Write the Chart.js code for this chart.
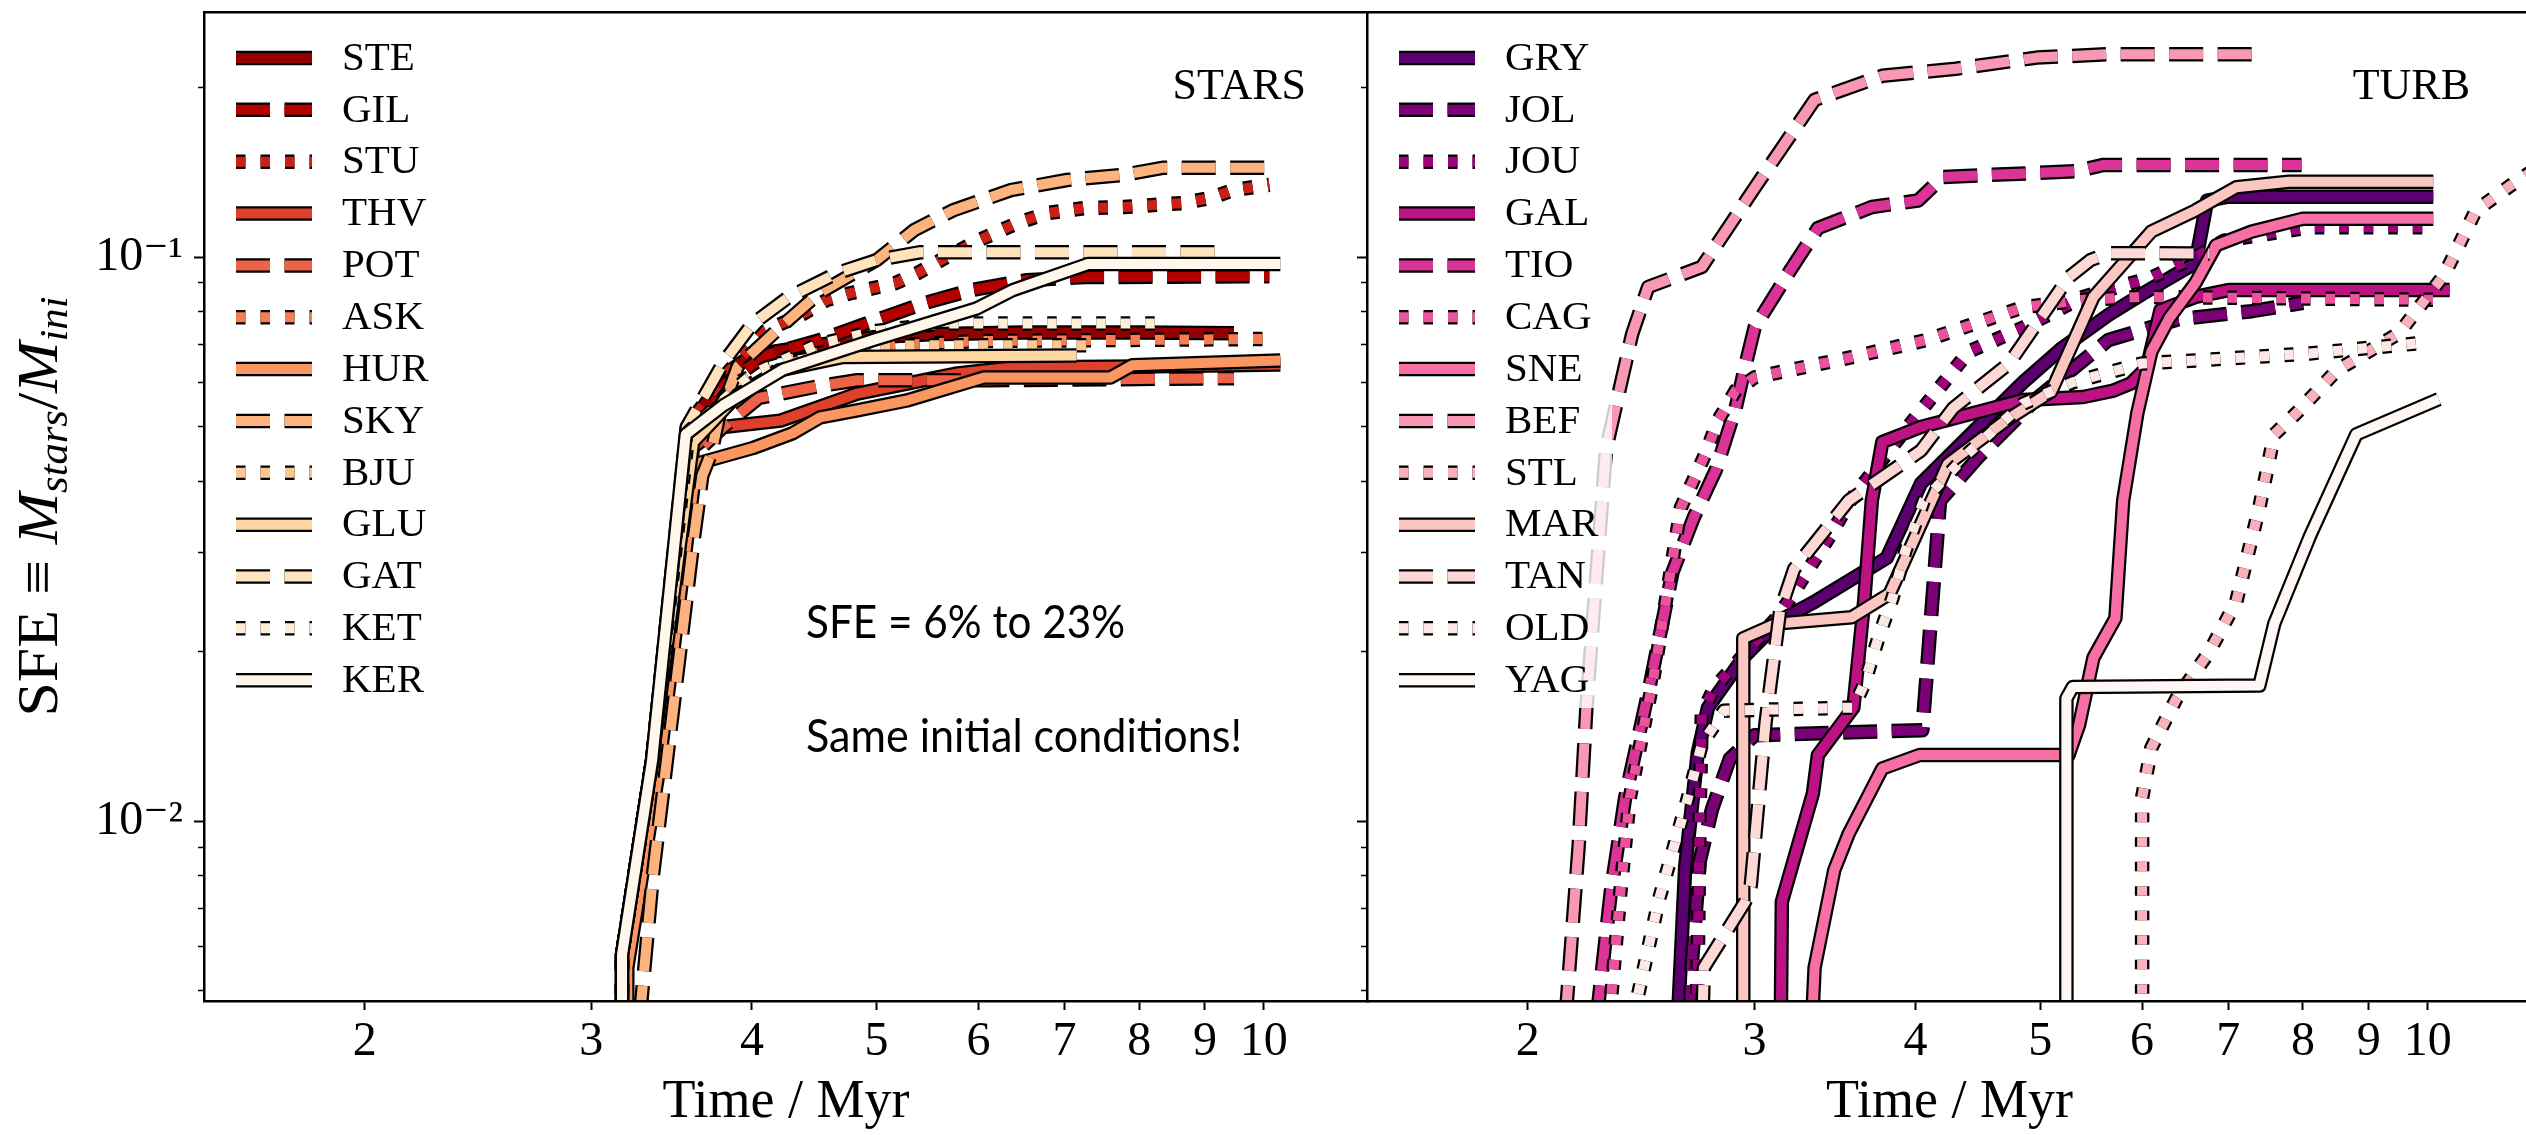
<!DOCTYPE html>
<html>
<head>
<meta charset="utf-8">
<title>SFE vs time: STARS / TURB</title>
<script src="https://cdn.jsdelivr.net/npm/chart.js@4.4.1/dist/chart.umd.min.js"></script>
<style>
  html, body { margin: 0; padding: 0; background: #fff; }
  body { width: 2526px; height: 1135px; overflow: hidden; position: relative; }
  canvas { position: absolute; top: 0; }
  #stars { left: 0; }
  #turb { left: 1340px; }
</style>
</head>
<body>
<canvas id="stars" width="1370" height="1135"></canvas>
<canvas id="turb" width="1200" height="1135"></canvas>
<script>
(function () {
  'use strict';

  // axes
  const xRange = [1.5, 12.05];
  const yRange = [0.0048, 0.272];
  const xTicks = [2, 3, 4, 5, 6, 7, 8, 9, 10];
  const yMajorTicks = [0.01, 0.1];
  const yMajorLabels = ['10\u207B\u00B2', '10\u207B\u00B9'];
  const yMinorTicks = [0.005, 0.006, 0.007, 0.008, 0.009, 0.02, 0.03, 0.04, 0.05, 0.06, 0.07, 0.08, 0.09, 0.2];

  // STARS runs: [time / Myr, SFE]
  const STE = [[3.17, 0.003], [3.17, 0.0058], [3.345, 0.0128], [3.56, 0.049], [3.7, 0.056], [3.85, 0.063], [4.0, 0.067], [4.34, 0.069], [4.97, 0.0721], [5.5, 0.073], [6.5, 0.0735], [8.0, 0.0735], [9.48, 0.0733]];
  const GIL = [[3.17, 0.003], [3.17, 0.0058], [3.345, 0.0128], [3.56, 0.049], [3.75, 0.058], [4.1, 0.067], [4.52, 0.0713], [4.97, 0.077], [5.45, 0.0829], [5.92, 0.0874], [6.54, 0.091], [7.26, 0.0922], [10.1, 0.0925]];
  const STU = [[3.17, 0.003], [3.17, 0.0058], [3.345, 0.0128], [3.56, 0.05], [3.8, 0.0612], [4.1, 0.074], [4.39, 0.0795], [4.57, 0.0839], [4.77, 0.0863], [5.17, 0.0899], [5.38, 0.0937], [5.61, 0.0988], [6.01, 0.1072], [6.43, 0.1149], [6.79, 0.1197], [7.26, 0.1222], [7.78, 0.1227], [8.66, 0.1247], [9.09, 0.1273], [9.47, 0.1315], [10.1, 0.1343]];
  const THV = [[3.18, 0.003], [3.18, 0.0057], [3.36, 0.0125], [3.6, 0.046], [3.77, 0.0499], [4.21, 0.0513], [4.83, 0.0573], [5.78, 0.0622], [6.35, 0.0637], [8.0, 0.064], [10.3, 0.0645]];
  const POT = [[3.18, 0.003], [3.18, 0.0057], [3.36, 0.0125], [3.62, 0.045], [3.8, 0.05], [4.05, 0.0563], [4.5, 0.059], [4.83, 0.0605], [6.1, 0.0605], [9.48, 0.061]];
  const ASK = [[3.17, 0.003], [3.17, 0.0058], [3.345, 0.0128], [3.58, 0.048], [3.9, 0.058], [4.3, 0.065], [5.0, 0.0695], [6.0, 0.071], [10.0, 0.0716]];
  const HUR = [[3.2, 0.003], [3.2, 0.0055], [3.38, 0.012], [3.62, 0.043], [4.01, 0.0459], [4.3, 0.0487], [4.52, 0.052], [4.83, 0.0535], [5.28, 0.0557], [6.06, 0.0612], [7.6, 0.0612], [7.9, 0.0643], [10.3, 0.0656]];
  const SKY = [[3.22, 0.003], [3.35, 0.008], [3.47, 0.0155], [3.6, 0.031], [3.66, 0.041], [3.72, 0.045], [3.77, 0.052], [3.9, 0.064], [4.21, 0.0752], [4.51, 0.0863], [5.0, 0.0988], [5.35, 0.1117], [5.73, 0.121], [6.36, 0.1315], [7.03, 0.137], [7.79, 0.14], [8.34, 0.144], [10.1, 0.144]];
  const BJU = [[3.17, 0.003], [3.17, 0.0058], [3.345, 0.0128], [3.57, 0.048], [3.9, 0.06], [4.3, 0.066], [4.7, 0.0695], [5.5, 0.0698], [7.3, 0.0698]];
  const GLU = [[3.17, 0.003], [3.17, 0.0058], [3.345, 0.0128], [3.6, 0.047], [3.9, 0.057], [4.2, 0.063], [4.7, 0.0665], [7.15, 0.0669]];
  const GAT = [[3.17, 0.003], [3.17, 0.0058], [3.345, 0.0128], [3.56, 0.05], [3.8, 0.065], [4.0, 0.076], [4.27, 0.0849], [4.66, 0.0937], [5.0, 0.0988], [5.4, 0.102], [9.3, 0.102]];
  const KET = [[3.17, 0.003], [3.17, 0.0058], [3.345, 0.0128], [3.57, 0.049], [4.0, 0.062], [4.5, 0.07], [5.0, 0.074], [5.65, 0.0763], [8.3, 0.0763]];
  const KER = [[3.17, 0.003], [3.17, 0.0058], [3.345, 0.0128], [3.553, 0.0485], [3.8, 0.0546], [4.23, 0.0632], [4.97, 0.0713], [5.98, 0.0811], [6.38, 0.0874], [7.3, 0.0972], [10.3, 0.0972]];

  // TURB runs
  const GRY = [[2.61, 0.003], [2.62, 0.0048], [2.65, 0.0083], [2.71, 0.0132], [2.76, 0.0159], [2.94, 0.0195], [3.14, 0.0227], [3.33, 0.0244], [3.8, 0.0293], [4.04, 0.0397], [4.85, 0.06], [5.2, 0.069], [5.65, 0.079], [6.0, 0.086], [6.6, 0.0976], [6.74, 0.126], [7.0, 0.128], [10.1, 0.128]];
  const JOL = [[2.66, 0.003], [2.68, 0.0055], [2.72, 0.0085], [2.78, 0.0105], [2.87, 0.0129], [3.0, 0.0142], [4.05, 0.0145], [4.18, 0.037], [4.48, 0.0443], [4.97, 0.0562], [5.65, 0.0713], [6.4, 0.0776], [7.3, 0.0802], [8.0, 0.083]];
  const JOU = [[2.69, 0.003], [2.71, 0.0055], [2.72, 0.0108], [2.73, 0.0155], [2.79, 0.0172], [3.14, 0.0233], [3.44, 0.0323], [3.56, 0.037], [3.87, 0.0473], [4.4, 0.068], [4.85, 0.075], [5.4, 0.085], [6.1, 0.092], [6.6, 0.1], [6.95, 0.107], [8.1, 0.113], [9.95, 0.113]];
  const GAL = [[3.14, 0.003], [3.15, 0.0072], [3.33, 0.0112], [3.36, 0.0131], [3.58, 0.0159], [3.65, 0.0246], [3.7, 0.037], [3.77, 0.047], [4.04, 0.05], [4.85, 0.0558], [5.4, 0.0565], [5.7, 0.058], [5.88, 0.0597], [6.05, 0.0637], [6.2, 0.0805], [6.6, 0.085], [7.0, 0.0874], [10.4, 0.0874]];
  const TIO = [[2.24, 0.003], [2.27, 0.0048], [2.32, 0.0075], [2.38, 0.011], [2.49, 0.0176], [2.59, 0.0276], [2.69, 0.0345], [2.8, 0.042], [2.9, 0.054], [2.95, 0.064], [3.0, 0.075], [3.2, 0.095], [3.36, 0.1126], [3.7, 0.1227], [4.02, 0.126], [4.2, 0.1387], [5.33, 0.142], [5.6, 0.1457], [7.98, 0.1457]];
  const CAG = [[2.3, 0.003], [2.32, 0.0048], [2.36, 0.0075], [2.4, 0.011], [2.5, 0.0176], [2.63, 0.036], [2.75, 0.045], [2.81, 0.0513], [2.9, 0.058], [3.0, 0.0612], [3.52, 0.066], [4.08, 0.0713], [4.85, 0.0815], [5.4, 0.084], [6.0, 0.085], [10.3, 0.084]];
  const SNE = [[3.3, 0.003], [3.34, 0.0055], [3.46, 0.0082], [3.55, 0.0095], [3.77, 0.0124], [4.03, 0.0131], [5.26, 0.0131], [5.36, 0.0148], [5.5, 0.0195], [5.72, 0.0229], [5.8, 0.037], [5.95, 0.053], [6.1, 0.068], [6.3, 0.078], [6.6, 0.09], [6.85, 0.105], [7.3, 0.111], [8.0, 0.117], [10.1, 0.117]];
  const BEF = [[2.12, 0.003], [2.14, 0.0045], [2.19, 0.009], [2.22, 0.0157], [2.26, 0.027], [2.3, 0.0456], [2.41, 0.073], [2.48, 0.0885], [2.73, 0.0961], [3.0, 0.1326], [3.34, 0.19], [3.77, 0.2096], [4.3, 0.2158], [4.97, 0.2258], [5.65, 0.229], [7.38, 0.229]];
  const STL = [[6.0, 0.003], [6.0, 0.011], [6.1, 0.0135], [6.38, 0.0165], [6.76, 0.0199], [7.1, 0.0245], [7.4, 0.036], [7.6, 0.0485], [7.9, 0.0528], [8.5, 0.063], [9.5, 0.0733], [10.3, 0.093], [10.9, 0.121], [11.6, 0.134], [12.5, 0.15]];
  const MAR = [[2.94, 0.003], [2.94, 0.0211], [3.12, 0.0224], [3.57, 0.023], [3.82, 0.0253], [4.24, 0.043], [4.7, 0.0513], [5.1, 0.0578], [5.5, 0.085], [6.1, 0.111], [6.6, 0.121], [7.1, 0.133], [7.8, 0.136], [10.1, 0.136]];
  const TAN = [[2.72, 0.003], [2.74, 0.0055], [2.95, 0.0072], [2.98, 0.0077], [3.06, 0.015], [3.14, 0.0236], [3.22, 0.028], [3.55, 0.037], [4.04, 0.0454], [4.28, 0.054], [4.73, 0.0648], [5.26, 0.092], [5.47, 0.0988], [5.65, 0.1016], [6.77, 0.1015]];
  const OLD = [[2.42, 0.003], [2.43, 0.0048], [2.53, 0.0073], [2.66, 0.0109], [2.73, 0.0137], [2.84, 0.0157], [3.58, 0.0159], [3.65, 0.0175], [3.75, 0.0214], [3.84, 0.0249], [3.93, 0.0302], [4.06, 0.037], [4.4, 0.045], [4.85, 0.055], [5.3, 0.06], [6.0, 0.0648], [6.6, 0.0656], [8.1, 0.0675], [9.8, 0.0703]];
  const YAG = [[5.24, 0.003], [5.24, 0.0165], [5.3, 0.0173], [7.4, 0.0174], [7.6, 0.0224], [8.1, 0.032], [8.8, 0.0485], [10.2, 0.056]];

  const starsNames = ['STE', 'GIL', 'STU', 'THV', 'POT', 'ASK', 'HUR', 'SKY', 'BJU', 'GLU', 'GAT', 'KET', 'KER'];
  const starsRuns = [STE, GIL, STU, THV, POT, ASK, HUR, SKY, BJU, GLU, GAT, KET, KER];
  const starsColors = ['#940000', '#b40100', '#cb2015', '#de402b', '#ee6347', '#f67c52', '#fc9660', '#fdb37d', '#fdc790', '#fdd6a2', '#fee3bd', '#feeed5', '#fff7ec'];

  const turbNames = ['GRY', 'JOL', 'JOU', 'GAL', 'TIO', 'CAG', 'SNE', 'BEF', 'STL', 'MAR', 'TAN', 'OLD', 'YAG'];
  const turbRuns = [GRY, JOL, JOU, GAL, TIO, CAG, SNE, BEF, STL, MAR, TAN, OLD, YAG];
  const turbColors = ['#5d006f', '#7b0177', '#9d017b', '#bc1284', '#db3397', '#ec529d', '#f76fa4', '#f998b2', '#fbb1bb', '#fcc7c2', '#fdd9d6', '#fde8e5', '#fff7f3'];

  const lineStyles = ['solid', 'dashed', 'dotted'];
  const dashFor = { solid: [], dashed: [34, 14.5], dotted: [9.5, 15] };

  const SERIF = '"Liberation Serif", "DejaVu Serif", serif';
  const SANS = 'Lato, "Open Sans", sans-serif';
  const LINE_W = 10;
  const OUTLINE_W = 14.5;

  Chart.defaults.font.family = SERIF;
  Chart.defaults.color = '#000';

  // every run = black outline underneath + coloured line on top
  function datasetsFor(names, colors, runs) {
    const out = [];
    names.forEach((name, i) => {
      const base = {
        borderDash: dashFor[lineStyles[i % 3]],
        pointRadius: 0,
        pointHoverRadius: 0,
        tension: 0,
        borderJoinStyle: 'round',
        borderCapStyle: 'butt',
        fill: false,
        clip: 0,
      };
      out.push(Object.assign({}, base, { label: name, outline: true, data: runs[i].slice(), borderColor: '#000', borderWidth: OUTLINE_W, order: 200 - 2 * i }));
      out.push(Object.assign({}, base, { label: name, data: runs[i].slice(), borderColor: colors[i], borderWidth: LINE_W, order: 199 - 2 * i }));
    });
    return out;
  }

  // fixed axis boxes so both panels line up exactly
  function fixSize(prop, size) {
    return (s) => {
      s[prop] = size;
      s.paddingTop = 0;
      s.paddingBottom = 0;
      s.paddingLeft = 0;
      s.paddingRight = 0;
    };
  }

  function scalesFor(yWidth, showYLabels) {
    const tickFont = { family: SERIF, size: 48 };
    const border = { display: true, color: '#000', width: 2.5, z: 1 };
    return {
      x: {
        type: 'logarithmic',
        position: 'bottom',
        min: xRange[0],
        max: xRange[1],
        afterBuildTicks: (s) => { s.ticks = xTicks.map((v) => ({ value: v })); },
        afterFit: fixSize('height', 134),
        ticks: { autoSkip: false, maxRotation: 0, minRotation: 0, padding: 4, color: '#000', font: tickFont, callback: (v) => String(v) },
        grid: { drawOnChartArea: false, drawTicks: true, tickLength: 9, tickWidth: 2, tickColor: '#000' },
        border,
        title: { display: true, text: 'Time / Myr', color: '#000', font: { family: SERIF, size: 54 }, padding: { top: 0, bottom: 0 } },
      },
      xTop: {
        type: 'logarithmic',
        position: 'top',
        min: xRange[0],
        max: xRange[1],
        afterFit: fixSize('height', 0),
        ticks: { display: false },
        grid: { display: false, drawTicks: false },
        border,
      },
      y: {
        type: 'logarithmic',
        position: 'left',
        weight: 1,
        min: yRange[0],
        max: yRange[1],
        afterBuildTicks: (s) => { s.ticks = yMajorTicks.map((v) => ({ value: v })); },
        afterFit: fixSize('width', yWidth),
        ticks: { display: showYLabels, padding: 11, color: '#000', font: tickFont, callback: (v, i) => yMajorLabels[i] },
        grid: { drawOnChartArea: false, drawTicks: true, tickLength: 10, tickWidth: 2, tickColor: '#000' },
        border,
      },
      yMinor: {
        type: 'logarithmic',
        position: 'left',
        weight: 0,
        min: yRange[0],
        max: yRange[1],
        afterBuildTicks: (s) => { s.ticks = yMinorTicks.map((v) => ({ value: v })); },
        afterFit: fixSize('width', 0),
        ticks: { display: false },
        grid: { drawOnChartArea: false, drawTicks: true, tickLength: 6, tickWidth: 1.5, tickColor: '#000' },
        border: { display: false },
      },
    };
  }

  // legend inside the axes, panel tag and notes
  const panelDecor = {
    id: 'panelDecor',
    afterDatasetsDraw(chart, args, opts) {
      const { ctx, chartArea: a } = chart;
      const runs = chart.data.datasets.filter((d) => !d.outline);
      ctx.save();
      ctx.fillStyle = 'rgba(255,255,255,0.8)';
      ctx.fillRect(a.left + 10, a.top + 16, 235, 680);
      runs.forEach((d, i) => {
        const y = a.top + 46 + i * 51.85;
        ctx.setLineDash(d.borderDash);
        ctx.lineCap = 'butt';
        ctx.beginPath();
        ctx.moveTo(a.left + 32, y);
        ctx.lineTo(a.left + 108, y);
        ctx.strokeStyle = '#000';
        ctx.lineWidth = OUTLINE_W;
        ctx.stroke();
        ctx.strokeStyle = d.borderColor;
        ctx.lineWidth = LINE_W;
        ctx.stroke();
        ctx.setLineDash([]);
        ctx.fillStyle = '#000';
        ctx.font = '41px ' + SERIF;
        ctx.textAlign = 'left';
        ctx.textBaseline = 'middle';
        ctx.fillText(d.label, a.left + 138, y + 1);
      });
      ctx.fillStyle = '#000';
      ctx.font = '44px ' + SERIF;
      ctx.textAlign = 'right';
      ctx.textBaseline = 'alphabetic';
      ctx.fillText(opts.tag, a.right - 62, a.top + 87);
      (opts.notes || []).forEach((n) => {
        ctx.font = '47px ' + SANS;
        ctx.textAlign = 'left';
        const w = ctx.measureText(n.text).width;
        ctx.save();
        ctx.translate(a.left + n.dx, a.top + n.dy);
        ctx.scale(n.width / w, 1);
        ctx.fillText(n.text, 0, 0);
        ctx.restore();
      });
      ctx.restore();
    },
  };

  // rotated y title with italic M and subscripts
  const yTitle = {
    id: 'yTitle',
    afterDraw(chart, args, opts) {
      const { ctx, chartArea: a } = chart;
      const parts = [
        { t: 'SFE', f: '58px ' + SERIF, dy: 0 },
        { t: ' \u2261 ', f: '58px ' + SERIF, dy: 0 },
        { t: 'M', f: 'italic 58px ' + SERIF, dy: 0 },
        { t: 'stars', f: 'italic 40px ' + SERIF, dy: 10 },
        { t: '/', f: '58px ' + SERIF, dy: 0 },
        { t: 'M', f: 'italic 58px ' + SERIF, dy: 0 },
        { t: 'ini', f: 'italic 40px ' + SERIF, dy: 10 },
      ];
      ctx.save();
      let total = 0;
      parts.forEach((p) => { ctx.font = p.f; p.w = ctx.measureText(p.t).width; total += p.w; });
      ctx.translate(opts.x, (a.top + a.bottom) / 2);
      ctx.rotate(-Math.PI / 2);
      ctx.scale(opts.length / total, 1);
      ctx.fillStyle = '#000';
      ctx.textAlign = 'left';
      ctx.textBaseline = 'alphabetic';
      let x = -total / 2;
      parts.forEach((p) => { ctx.font = p.f; ctx.fillText(p.t, x, p.dy); x += p.w; });
      ctx.restore();
    },
  };

  function makeChart(id, names, colors, runs, cfg) {
    return new Chart(document.getElementById(id), {
      type: 'line',
      data: { datasets: datasetsFor(names, colors, runs) },
      options: {
        responsive: false,
        animation: false,
        devicePixelRatio: 1,
        events: [],
        layout: { padding: { left: 0, right: cfg.padRight, top: 12, bottom: 0 } },
        plugins: {
          legend: { display: false },
          tooltip: { enabled: false },
          panelDecor: { tag: cfg.tag, notes: cfg.notes },
          yTitle: { x: 57, length: 420 },
        },
        scales: scalesFor(cfg.yWidth, cfg.yLabels),
      },
      plugins: cfg.plugins,
    });
  }

  makeChart('stars', starsNames, starsColors, starsRuns, {
    tag: 'STARS',
    yWidth: 204,
    yLabels: true,
    padRight: 2,
    notes: [
      { text: 'SFE = 6% to 23%', dx: 602, dy: 626, width: 319 },
      { text: 'Same initial conditions!', dx: 602, dy: 740, width: 436 },
    ],
    plugins: [panelDecor, yTitle],
  });

  makeChart('turb', turbNames, turbColors, turbRuns, {
    tag: 'TURB',
    yWidth: 27,
    yLabels: false,
    padRight: 8,
    notes: [],
    plugins: [panelDecor],
  });
})();
</script>
</body>
</html>
